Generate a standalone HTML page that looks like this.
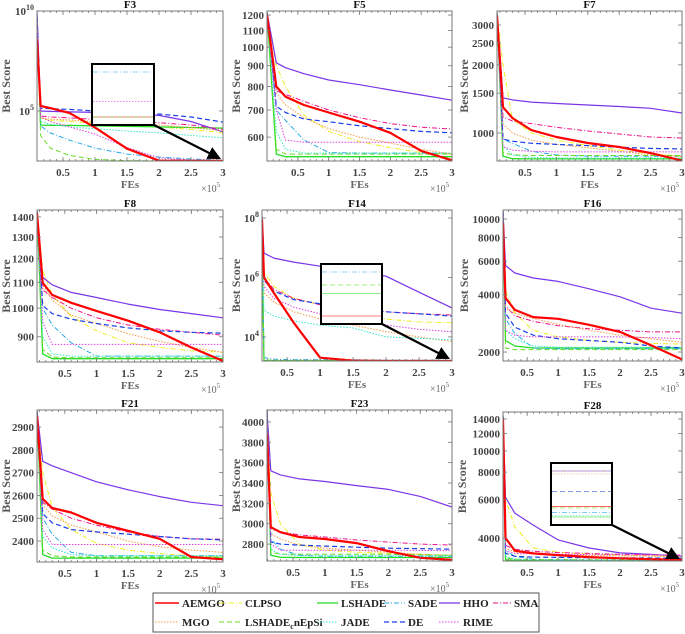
<!DOCTYPE html>
<html><head><meta charset="utf-8"><style>
html,body{margin:0;padding:0;background:#fff;}
svg{display:block;font-family:"Liberation Serif",serif;}
svg text{font-family:"Liberation Serif",serif;}
</style></head><body>
<svg id="fig" width="685" height="634" viewBox="0 0 685 634" xmlns="http://www.w3.org/2000/svg"></svg>
<script>
const fes=[0,0.15,0.3,0.6,1,1.5,2,2.5,3];
const xTickVals=[0.5,1,1.5,2,2.5,3];
const seriesNames=["AEMGO","CLPSO","LSHADE","SADE","HHO","SMA","MGO","LSHADE_cnEpSi","JADE","DE","RIME"];
const f3Ticks=[1e5,1e10];
const f5Ticks=[600,700,800,900,1000,1100,1200];
const f7Ticks=[1000,1500,2000,2500,3000];
const f8Ticks=[900,1000,1100,1200,1300,1400];
const f14Ticks=[1e4,1e6,1e8];
const f16Ticks=[2000,4000,6000,8000,10000];
const f21Ticks=[2400,2500,2600,2700,2800,2900];
const f23Ticks=[2800,3000,3200,3400,3600,3800,4000];
const f28Ticks=[4000,6000,8000,10000,12000,14000];
const f3Values=[
[4e8,1.8e5,1.4e5,8e4,1.5e4,1.3e3,330,320,320],
[5e9,4.5e4,3.5e4,3e4,2.5e4,2e4,1.6e4,1.2e4,8e3],
[5e9,2e4,1.9e4,1.9e4,1.8e4,1.7e4,1.6e4,1.5e4,1.4e4],
[5e9,1.8e4,8e3,3.5e3,1.4e3,700,500,400,350],
[1e10,1e5,9.5e4,9e4,8.5e4,7.5e4,6e4,3e4,9e3],
[5e9,5.6e4,5e4,4.5e4,3.8e4,3.2e4,2.6e4,2e4,1.2e4],
[5e9,4.5e4,4e4,3.5e4,3e4,2.5e4,2e4,1.5e4,1e4],
[3e9,6e3,1.4e3,600,380,330,320,320,320],
[5e9,3e4,2.2e4,1.6e4,1.3e4,1e4,8e3,6e3,4.5e3],
[5e9,1.4e5,1.3e5,1.2e5,1e5,8.5e4,7e4,5e4,2.8e4],
[5e9,5e4,3e4,1.6e4,7e3,1.5e3,450,350,330]];
const f5Values=[
[1200,800,755,720,690,655,615,555,526],
[1220,900,800,680,620,585,565,550,545],
[1220,545,537,537,537,537,537,537,537],
[1220,700,660,590,550,548,548,548,548],
[1220,915,890,860,830,808,784,762,740],
[1220,780,765,735,700,670,648,635,628],
[1220,770,720,670,630,600,580,560,545],
[1220,560,545,545,545,545,545,545,545],
[1220,620,560,548,548,548,548,548,548],
[1220,715,690,665,655,640,630,620,615],
[1220,700,590,583,583,583,583,583,583]];
const f7Values=[
[3300,1300,1165,1030,960,903,867,815,755],
[3400,2000,1150,1000,930,880,840,810,790],
[3400,790,770,768,768,768,768,768,768],
[3400,940,900,830,800,790,790,790,790],
[3400,1430,1400,1370,1350,1330,1310,1285,1225],
[3400,1177,1130,1100,1060,1020,990,960,950],
[3400,1100,1000,930,890,860,830,800,785],
[3400,820,800,795,795,795,795,795,795],
[3400,880,800,780,775,775,775,775,775],
[3400,940,920,900,890,880,865,855,850],
[3400,870,840,830,825,825,825,825,825]];
const f8Values=[
[1420,1098,1050,1020,990,955,915,865,823],
[1430,1150,1050,970,920,880,865,855,850],
[1430,845,830,830,830,830,830,830,830],
[1430,1000,940,880,838,838,838,838,838],
[1430,1120,1090,1060,1040,1015,995,980,965],
[1430,1070,1040,1000,965,940,925,915,905],
[1430,1090,1030,975,945,910,885,865,850],
[1430,860,835,833,833,833,833,833,833],
[1430,900,845,838,838,838,838,838,838],
[1430,1010,980,960,945,930,920,915,912],
[1430,950,875,875,875,875,875,875,875]];
const f14Values=[
[9e7,1e6,3e5,3e4,2e3,1.6e3,1.55e3,1.55e3,1.55e3],
[1e8,1.5e6,5e5,2e5,1.2e5,7e4,4e4,3.2e4,3e4],
[1e7,1.6e3,1.6e3,1.6e3,1.6e3,1.6e3,1.6e3,1.6e3,1.6e3],
[5e7,2e3,1.8e3,1.7e3,1.7e3,1.7e3,1.65e3,1.65e3,1.65e3],
[1.2e8,6.6e6,4.5e6,3.3e6,2.4e6,1.7e6,1.1e6,3.2e5,9.5e4],
[1e8,1e6,4e5,2e5,1.2e5,8e4,7e4,6e4,5.5e4],
[1e8,3e5,1.5e5,7e4,4e4,2.5e4,1.5e4,1e4,7e3],
[5e7,1.7e3,1.63e3,1.62e3,1.62e3,1.62e3,1.62e3,1.62e3,1.62e3],
[1e8,8e4,5e4,3.5e4,2.5e4,2e4,1e4,9e3,8e3],
[1e8,8e5,3.5e5,1.8e5,1.3e5,1e5,7e4,6e4,5e4],
[1e8,5e5,2e5,1e5,6e4,3.5e4,2.5e4,1.8e4,1.5e4]];
const f16Values=[
[9500,3850,3330,3050,2990,2780,2550,2170,1830],
[11000,4200,3200,2600,2400,2300,2250,2220,2200],
[11000,2300,2150,2100,2100,2100,2100,2100,2100],
[11000,3000,2500,2100,2080,2080,2080,2080,2080],
[11000,5700,5200,4900,4700,4300,3900,3400,3200],
[11000,3500,3100,2900,2750,2650,2600,2550,2550],
[11000,3400,3200,3000,2800,2600,2450,2350,2250],
[11000,2100,2060,2060,2060,2060,2060,2060,2060],
[11000,2600,2350,2150,2120,2120,2120,2120,2120],
[11000,3200,2700,2450,2350,2300,2250,2150,2100],
[11000,2600,2450,2400,2400,2400,2400,2380,2350]];
const f21Values=[
[2950,2585,2545,2525,2480,2445,2410,2330,2320],
[2970,2700,2550,2450,2390,2360,2345,2335,2330],
[2970,2340,2325,2325,2325,2325,2325,2325,2325],
[2970,2500,2430,2350,2335,2335,2335,2335,2335],
[2970,2750,2730,2700,2660,2625,2595,2570,2555],
[2970,2570,2540,2500,2470,2440,2420,2410,2408],
[2970,2560,2510,2470,2440,2400,2375,2360,2350],
[2970,2360,2335,2330,2330,2330,2330,2330,2330],
[2970,2420,2370,2340,2335,2335,2335,2335,2335],
[2970,2520,2480,2450,2440,2430,2420,2410,2405],
[2970,2450,2385,2385,2385,2385,2385,2385,2385]];
const f23Values=[
[3880,2966,2917,2870,2850,2810,2730,2665,2645],
[4100,3300,3000,2800,2740,2720,2710,2700,2690],
[4100,2690,2670,2668,2668,2668,2668,2668,2668],
[4100,2850,2750,2690,2680,2680,2680,2680,2680],
[4100,3520,3480,3440,3415,3375,3337,3268,3164],
[4100,2950,2920,2890,2870,2840,2820,2800,2790],
[4100,2900,2850,2790,2760,2740,2720,2700,2690],
[4100,2720,2700,2700,2700,2700,2700,2695,2690],
[4100,2750,2700,2685,2685,2685,2685,2685,2685],
[4100,2820,2800,2790,2780,2770,2760,2755,2750],
[4100,2800,2740,2740,2740,2740,2740,2738,2735]];
const f28Values=[
[14000,4000,3500,3400,3340,3270,3230,3200,3180],
[14500,6000,4500,3600,3450,3380,3340,3320,3300],
[14500,3180,3160,3155,3150,3148,3145,3145,3145],
[14500,3500,3300,3200,3180,3170,3165,3160,3160],
[14500,6140,5200,4580,3920,3600,3420,3370,3300],
[14500,3700,3550,3480,3430,3400,3370,3350,3340],
[14500,3600,3450,3380,3350,3330,3310,3300,3290],
[14500,3250,3200,3190,3185,3180,3178,3175,3175],
[14500,3300,3200,3180,3170,3165,3160,3155,3150],
[14500,3400,3300,3270,3260,3250,3240,3240,3230],
[14500,3500,3400,3380,3370,3360,3350,3345,3340]];

const styles=[
{c:"#ff0000",w:2.2,d:""},
{c:"#eeee22",w:1,d:"5,2,1,2"},
{c:"#22dd22",w:1.3,d:""},
{c:"#2aa8e8",w:1,d:"5,2,1,2"},
{c:"#7a35e8",w:1.2,d:""},
{c:"#ee1188",w:1,d:"5,2,1,2"},
{c:"#f59a45",w:1,d:"1.5,1.5"},
{c:"#66dd22",w:1,d:"5,3"},
{c:"#33e8c8",w:1,d:"1.5,1.5"},
{c:"#1a3ee6",w:1.2,d:"5,3"},
{c:"#e040e0",w:1,d:"1.5,1.5"}];

const panels=[
{key:"f3",title:"F3",box:[37,223,11,161],xmin:0.094,scale:"log",dom:[Math.pow(10,2.5),1e10],ticks:f3Ticks,pow:true,vals:f3Values,ylx:10,inset:{b:[92,154,64,125],k:1.15}},
{key:"f5",title:"F5",box:[267,452,11,161],xmin:0.0,scale:"log",dom:[524,1228],ticks:f5Ticks,vals:f5Values,ylx:240},
{key:"f7",title:"F7",box:[497,682,11,161],xmin:0.054,scale:"log",dom:[752,3460],ticks:f7Ticks,vals:f7Values,ylx:468},
{key:"f8",title:"F8",box:[37,223,210,362],xmin:0.06,scale:"log",dom:[820,1436],ticks:f8Ticks,vals:f8Values,ylx:10},
{key:"f14",title:"F14",box:[262,452,210,361],xmin:0.12,scale:"log",dom:[Math.pow(10,3.19),Math.pow(10,8.27)],ticks:f14Ticks,pow:true,vals:f14Values,ylx:240,inset:{b:[321,382,264,324],k:1.1}},
{key:"f16",title:"F16",box:[503,682,210,361],xmin:0.11,scale:"log",dom:[1794,11150],ticks:f16Ticks,vals:f16Values,ylx:468},
{key:"f21",title:"F21",box:[37,223,410,562],xmin:0.06,scale:"lin",dom:[2308,2975],ticks:f21Ticks,vals:f21Values,ylx:10},
{key:"f23",title:"F23",box:[267,452,410,561],xmin:0.09,scale:"lin",dom:[2634,4117],ticks:f23Ticks,vals:f23Values,ylx:240},
{key:"f28",title:"F28",box:[503,682,412,561],xmin:0.11,scale:"log",dom:[3140,15060],ticks:f28Ticks,vals:f28Values,ylx:466,inset:{b:[551,612,463,525],k:1.06}}];

const NS="http://www.w3.org/2000/svg";
const FF="Liberation Serif, serif";
const svg=document.getElementById("fig");
function mk(tag,attrs,parent){const e=document.createElementNS(NS,tag);for(const k in attrs)e.setAttribute(k,attrs[k]);if(tag==="text")e.setAttribute("font-family",FF);(parent||svg).appendChild(e);return e;}
const defs=mk("defs",{});
const mrk=mk("marker",{id:"arrowhead",markerWidth:"6",markerHeight:"6",refX:"5",refY:"3",orient:"auto",markerUnits:"strokeWidth"},defs);
mk("path",{d:"M0,0 L6,3 L0,6 z",fill:"#000"},mrk);

panels.forEach(function(p){
  const [x0,x1,y0,y1]=p.box;
  const g=mk("g",{});
  
  
  const xs=function(v){const vv=Math.max(v,p.xmin);return x0+(vv-p.xmin)/(3-p.xmin)*(x1-x0);};
  const ys=function(v){
    if(p.scale==="log"){const a=Math.log10(p.dom[0]),b=Math.log10(p.dom[1]);return y1-(Math.log10(v)-a)/(b-a)*(y1-y0);}
    return y1-(v-p.dom[0])/(p.dom[1]-p.dom[0])*(y1-y0);
  };
  const cp=mk("clipPath",{id:"clip-"+p.key},defs);
  mk("rect",{x:x0,y:y0,width:x1-x0,height:y1-y0},cp);
  mk("rect",{x:x0,y:y0,width:x1-x0,height:y1-y0,fill:"#fff",stroke:"none"},g);
  const sg=mk("g",{"clip-path":"url(#clip-"+p.key+")"},g);
  const order=[1,2,3,4,5,6,7,8,9,10,0];
  order.forEach(function(si){
    const pts=p.vals[si].map(function(v,i){return xs(fes[i]).toFixed(1)+","+ys(v).toFixed(1);}).join(" ");
    const st=styles[si];
    const pl=mk("polyline",{points:pts,fill:"none",stroke:st.c,"stroke-width":st.w,"stroke-dasharray":st.d,"stroke-linejoin":"round"},sg);
    
    
  });
  const fr=mk("rect",{x:x0,y:y0,width:x1-x0,height:y1-y0,fill:"none",stroke:"#777","stroke-width":"1"},g);
  
  
  for(let t=0.1;t<3.001;t+=0.1){const px=xs(t);if(px<=x0+0.5)continue;
    mk("line",{x1:px,y1:y0,x2:px,y2:y0+2,stroke:"#777","stroke-width":"0.8"},g);
    mk("line",{x1:px,y1:y1,x2:px,y2:y1-2,stroke:"#777","stroke-width":"0.8"},g);}
  xTickVals.forEach(function(t){const px=xs(t);
    mk("line",{x1:px,y1:y1,x2:px,y2:y1-4,stroke:"#777","stroke-width":"0.8"},g);
    mk("line",{x1:px,y1:y0,x2:px,y2:y0+4,stroke:"#777","stroke-width":"0.8"},g);
    const tx=mk("text",{x:px,y:y1+15,"text-anchor":"middle","font-size":"11","font-weight":"bold",fill:"#444"},g);
    tx.textContent=String(t);
    
    
  });
  p.ticks.forEach(function(t){const py=ys(t);
    mk("line",{x1:x0,y1:py,x2:x0+4,y2:py,stroke:"#777","stroke-width":"0.8"},g);
    mk("line",{x1:x1,y1:py,x2:x1-4,y2:py,stroke:"#777","stroke-width":"0.8"},g);
    const tx=mk("text",{x:x0-3,y:py+4,"text-anchor":"end","font-size":"11","font-weight":"bold",fill:"#444"},g);
    if(p.pow){tx.textContent="10";const e=mk("tspan",{dy:"-5","font-size":"8"},tx);e.textContent=String(Math.round(Math.log10(t)));}
    else tx.textContent=String(t);
    
    
  });
  const ti=mk("text",{x:(x0+x1)/2,y:y0-3,"text-anchor":"middle","font-size":"11","font-weight":"bold",fill:"#111"},g);
  ti.textContent=p.title;
  
  
  const xl=mk("text",{x:(x0+x1)/2,y:y1+27,"text-anchor":"middle","font-size":"11","font-weight":"bold",fill:"#666"},g);
  xl.textContent="FEs";
  
  
  const xm=mk("text",{x:x1-22,y:y1+31,"font-size":"10",fill:"#666"},g);
  xm.textContent="×10";
  const xe=mk("tspan",{dy:"-5","font-size":"7"},xm);xe.textContent="5";
  
  
  const cy=(y0+y1)/2;
  const yl=mk("text",{x:p.ylx,y:cy,"text-anchor":"middle","font-size":"12","font-weight":"bold",fill:"#555",transform:"rotate(-90 "+p.ylx+" "+cy+")"},g);
  yl.textContent="Best Score";
  
  
  if(p.inset){
    const [bx0,bx1,by0,by1]=p.inset.b;
    const ig=mk("g",{},g);
    
    
    mk("rect",{x:bx0,y:by0,width:bx1-bx0,height:by1-by0,fill:"#fff"},ig);
    const lasts=p.vals.map(function(a){return a[a.length-1];});
    const lo=Math.min.apply(null,lasts);
    const sel=[];lasts.forEach(function(v,i){if(v<=lo*p.inset.k)sel.push(i);});
    const hi=Math.max.apply(null,sel.map(function(i){return lasts[i];}));
    sel.forEach(function(i){
      const v=lasts[i];
      const f=hi>lo?(Math.log(v)-Math.log(lo))/(Math.log(hi)-Math.log(lo)):0.5;
      const py=by1-8-f*(by1-by0-16);
      const ln=mk("line",{x1:bx0+1,y1:py,x2:bx1-1,y2:py,stroke:styles[i].c,"stroke-width":"0.8","stroke-opacity":"0.7","stroke-dasharray":styles[i].d},ig);
      
      
    });
    mk("rect",{x:bx0,y:by0,width:bx1-bx0,height:by1-by0,fill:"none",stroke:"#000","stroke-width":"2"},ig);
    const ar=mk("line",{x1:bx1,y1:by1,x2:x1-4,y2:y1-3,stroke:"#000","stroke-width":"2.2","marker-end":"url(#arrowhead)"},ig);
    
    
  }
});

const legendRows=[
 [[0,155,182],[1,219,245],[2,317,341],[3,384,408],[4,439,463],[5,493,514]],
 [[6,155,182],[7,219,245],[8,317,341],[9,384,408],[10,439,463]]];
const lg=mk("g",{});


mk("rect",{x:153,y:593,width:386,height:39,fill:"#fff",stroke:"#555","stroke-width":"1"},lg);
legendRows.forEach(function(row,ri){
  const ly=603+ri*19;
  row.forEach(function(e){
    const si=e[0],st=styles[si];
    const eg=mk("g",{},lg);
    
    
    mk("line",{x1:e[1],y1:ly,x2:e[2]-3,y2:ly,stroke:st.c,"stroke-width":Math.min(st.w,1.5),"stroke-dasharray":st.d},eg);
    const t=mk("text",{x:e[2],y:ly+4,"font-size":"11","font-weight":"bold",fill:"#222"},eg);
    if(si===7){t.textContent="LSHADE";const s=mk("tspan",{dy:"3","font-size":"8"},t);s.textContent="c";const r=mk("tspan",{dy:"-3"},t);r.textContent="nEpSi";}
    else t.textContent=seriesNames[si];
  });
});
</script>
</body></html>
